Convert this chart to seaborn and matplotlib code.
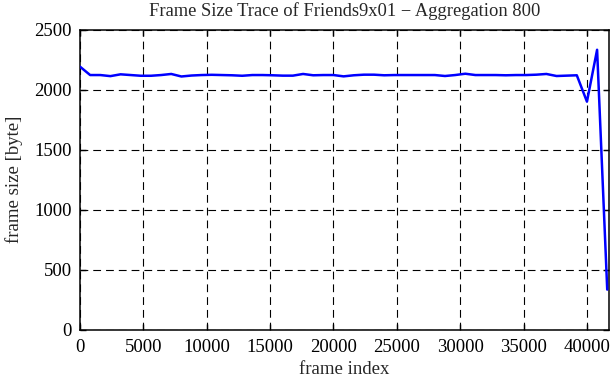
import matplotlib
matplotlib.use("Agg")
import matplotlib.pyplot as plt
import seaborn as sns
import pandas as pd

frame_index = list(range(0, 41601, 800))
frame_size = [
    2194, 2124, 2124, 2115, 2130, 2124, 2118, 2118, 2124, 2133,
    2112, 2120, 2124, 2126, 2124, 2122, 2118, 2124, 2124, 2122,
    2119, 2119, 2133, 2122, 2124, 2124, 2113, 2122, 2127, 2127,
    2122, 2124, 2124, 2124, 2124, 2124, 2116, 2124, 2135, 2124,
    2124, 2124, 2122, 2124, 2124, 2127, 2133, 2116, 2119, 2122,
    1902, 2335, 333,
]
x_ticks = list(range(0, 40001, 5000))
y_ticks = list(range(0, 2501, 500))
title = "Frame Size Trace of Friends9x01 \u2212 Aggregation 800"

sns.set_style("ticks")
plt.rcParams["font.family"] = ["Liberation Serif", "DejaVu Serif"]
plt.rcParams["font.size"] = 13.5

df = pd.DataFrame({"frame index": frame_index, "frame size": frame_size})

fig = plt.figure(figsize=(6.11, 3.80), dpi=100)
ax = fig.add_axes([80 / 611, 50.5 / 380, 528.5 / 611, 299.5 / 380])

sns.lineplot(data=df, x="frame index", y="frame size", ax=ax,
             color="#0000ff", linewidth=1.8, zorder=3)

ax.set_xlim(0, 41700)
ax.set_ylim(0, 2500)
ax.set_xticks(x_ticks)
ax.set_yticks(y_ticks)
ax.grid(True, color="black", linestyle=(0, (7, 4.5)), linewidth=0.8)
ax.set_axisbelow(True)
for s in ax.spines.values():
    s.set_visible(True)
    s.set_linewidth(1.1)
    s.set_color("black")
ax.tick_params(direction="in", length=4, width=1.0, top=True, right=True,
               labelsize=13.5, colors="black")
ax.tick_params(axis="x", pad=7)
ax.tick_params(axis="y", pad=6)
ax.set_xlabel("frame index", fontsize=13.5, labelpad=3.5)
ax.set_ylabel("frame size [byte]", fontsize=13.5, labelpad=8)
ax.set_title(title, fontsize=13.3, pad=10)

fig.savefig("out.png", dpi=100)
